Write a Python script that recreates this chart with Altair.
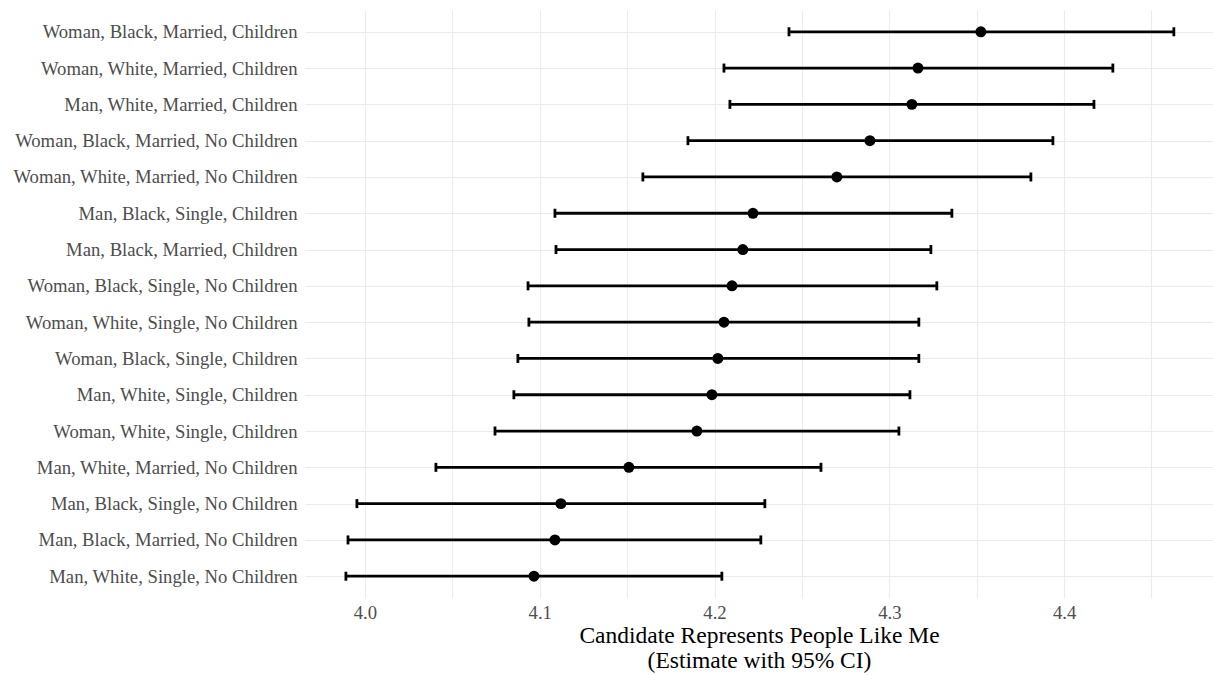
import altair as alt
import pandas as pd

categories = [
    "Woman, Black, Married, Children",
    "Woman, White, Married, Children",
    "Man, White, Married, Children",
    "Woman, Black, Married, No Children",
    "Woman, White, Married, No Children",
    "Man, Black, Single, Children",
    "Man, Black, Married, Children",
    "Woman, Black, Single, No Children",
    "Woman, White, Single, No Children",
    "Woman, Black, Single, Children",
    "Man, White, Single, Children",
    "Woman, White, Single, Children",
    "Man, White, Married, No Children",
    "Man, Black, Single, No Children",
    "Man, Black, Married, No Children",
    "Man, White, Single, No Children",
]
estimates = [4.3524, 4.3164, 4.3129, 4.2889, 4.2700, 4.2220, 4.2162, 4.2100,
             4.2054, 4.2019, 4.1985, 4.1899, 4.1510, 4.1121, 4.1087, 4.0967]
lower = [4.2426, 4.2054, 4.2088, 4.1848, 4.1590, 4.1087, 4.1093, 4.0933,
         4.0938, 4.0875, 4.0852, 4.0744, 4.0406, 3.9954, 3.9903, 3.9891]
upper = [4.4628, 4.4279, 4.4171, 4.3936, 4.3810, 4.3358, 4.3238, 4.3272,
         4.3169, 4.3169, 4.3118, 4.3055, 4.2609, 4.2288, 4.2265, 4.2042]
tick_values = [4.0, 4.05, 4.1, 4.15, 4.2, 4.25, 4.3, 4.35, 4.4, 4.45]
x_title = ["Candidate Represents People Like Me", "(Estimate with 95% CI)"]

df = pd.DataFrame({"label": categories, "estimate": estimates,
                   "lower": lower, "upper": upper})

FONT = "Liberation Serif"
GRID = "#EBEBEB"

x_scale = alt.Scale(domain=[3.9657, 4.4852], nice=False, zero=False)
x_axis = alt.Axis(
    values=tick_values,
    labelExpr="abs(datum.value*10 - round(datum.value*10)) < 0.001 ? format(datum.value, '.1f') : ''",
    ticks=False, tickSize=0, domain=False,
    grid=True, gridColor=GRID, gridWidth=1.1,
    labelFont=FONT, labelFontSize=18.7, labelColor="#4D4D4D", labelPadding=5,
    labelOverlap=False, labelFlush=False,
    titleFont=FONT, titleFontSize=23.5, titleColor="#000000", titleFontWeight="normal",
    titlePadding=2, titleLineHeight=25,
)
y_enc = alt.Y(
    "label:N", sort=categories, title=None,
    scale=alt.Scale(type="point", padding=0.6),
    axis=alt.Axis(ticks=False, tickSize=0, domain=False, grid=True, gridColor=GRID,
                  gridWidth=1.1, labelFont=FONT, labelFontSize=18.7, labelColor="#4D4D4D",
                  labelPadding=8, labelLimit=400),
)

base = alt.Chart(df).encode(y=y_enc)

bars = base.mark_rule(color="black", strokeWidth=2.8).encode(
    x=alt.X("lower:Q", scale=x_scale, axis=x_axis, title=x_title),
    x2="upper:Q",
)
caps_lo = base.mark_tick(color="black", thickness=2.8, size=9, opacity=1).encode(
    x=alt.X("lower:Q", scale=x_scale, axis=x_axis, title=x_title))
caps_hi = base.mark_tick(color="black", thickness=2.8, size=9, opacity=1).encode(
    x=alt.X("upper:Q", scale=x_scale, axis=x_axis, title=x_title))
points = base.mark_point(filled=True, color="black", size=120, opacity=1).encode(
    x=alt.X("estimate:Q", scale=x_scale, axis=x_axis, title=x_title))

chart = alt.layer(bars, caps_lo, caps_hi, points).properties(
    width=908, height=588,
    autosize=alt.AutoSizeParams(type="none"),
    padding={"left": 305, "top": 10, "right": 0, "bottom": 77},
    background="white",
).configure_view(stroke=None)

chart.save("out.html", embed_options={"renderer": "svg", "actions": False})
